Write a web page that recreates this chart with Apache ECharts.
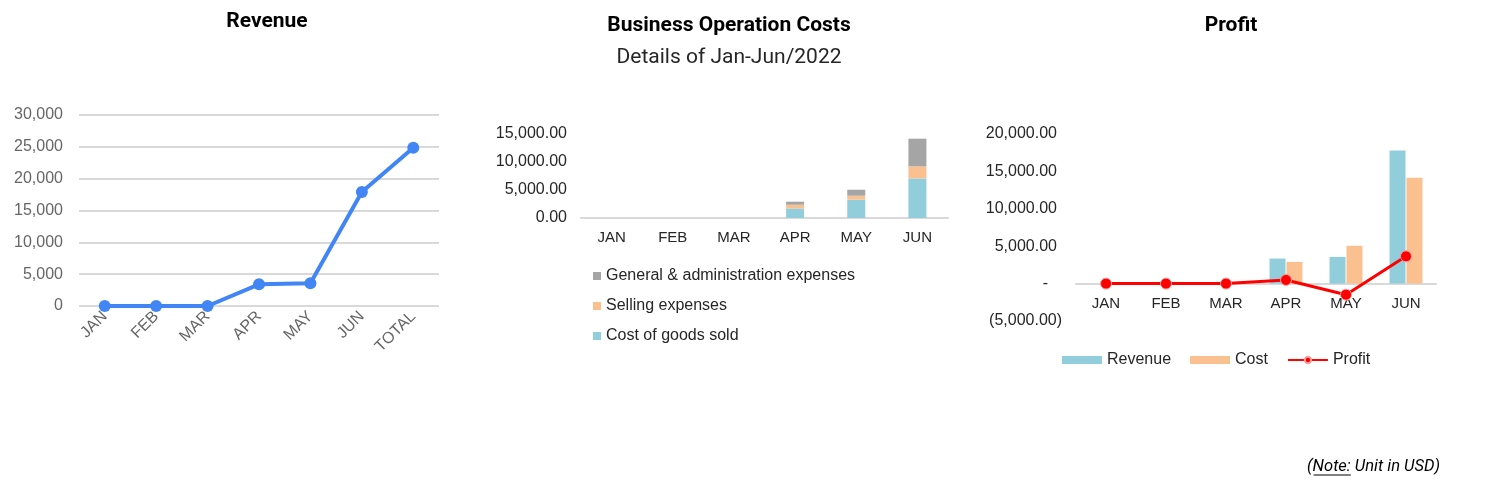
<!DOCTYPE html>
<html>
<head>
<meta charset="utf-8">
<script src="https://cdn.jsdelivr.net/npm/echarts@6/dist/echarts.min.js"></script>
<style>
html,body{margin:0;padding:0;background:#fff;}
#chart{width:1491px;height:488px;}
</style>
</head>
<body>
<div id="chart"></div>
<script>
// ---- data ----
const revenueCategories = ['JAN', 'FEB', 'MAR', 'APR', 'MAY', 'JUN', 'TOTAL'];
const revenueValues = [0, 0, 0, 3400, 3570, 17900, 24870];

const months = ['JAN', 'FEB', 'MAR', 'APR', 'MAY', 'JUN'];
const costOfGoodsSold = [0, 0, 0, 1700, 3270, 7070];
const sellingExpenses = [0, 0, 0, 670, 710, 2140];
const gnaExpenses = [0, 0, 0, 540, 1070, 4950];

const profitRevenue = [0, 0, 0, 3350, 3570, 17800];
const profitCost = [0, 0, 0, 2900, 5050, 14150];
const profitValues = [0, 0, 0, 490, -1480, 3650];

const titles = ['Revenue', 'Business Operation Costs', 'Profit'];
const subtitle = 'Details of Jan-Jun/2022';
const costLegend = ['General & administration expenses', 'Selling expenses', 'Cost of goods sold'];
const profitLegend = ['Revenue', 'Cost', 'Profit'];
const notePrefix = '(';
const noteLabel = 'Note:';
const noteRest = ' Unit in USD)';

// ---- chart ----
const chart = echarts.init(document.getElementById('chart'));
const AX = 'Liberation Sans, Arial, sans-serif';
const TF = 'Roboto, sans-serif';
const fmt2 = v => Math.abs(v).toLocaleString('en-US', {minimumFractionDigits: 2, maximumFractionDigits: 2});

// note text measurement (for underline under "Note:")
const noteFont = 'italic 16.5px Roboto, sans-serif';
const ctx = document.createElement('canvas').getContext('2d');
ctx.font = noteFont;
const noteFull = notePrefix + noteLabel + noteRest;
const noteRight = 1440;
const noteX0 = noteRight - ctx.measureText(noteFull).width;
const ulX1 = noteX0 + ctx.measureText(notePrefix).width + 1;
const ulX2 = noteX0 + ctx.measureText(notePrefix + noteLabel).width;

const option = {
  animation: false,
  title: [
    {text: titles[0], left: 262, top: 6, textAlign: 'center',
     textStyle: {fontFamily: TF, fontWeight: 'bold', fontSize: 21, color: '#000'}},
    {text: titles[1], left: 724, top: 10, textAlign: 'center',
     textStyle: {fontFamily: TF, fontWeight: 'bold', fontSize: 21, color: '#000'}},
    {text: subtitle, left: 724, top: 42, textAlign: 'center',
     textStyle: {fontFamily: TF, fontWeight: 'normal', fontSize: 21, color: '#262626'}},
    {text: titles[2], left: 1226, top: 10, textAlign: 'center',
     textStyle: {fontFamily: TF, fontWeight: 'bold', fontSize: 21, color: '#000'}}
  ],
  legend: [
    {
      data: costLegend, orient: 'vertical', left: 588, top: 263,
      icon: 'rect', itemWidth: 8, itemHeight: 8, itemGap: 14, itemTextGap: 3,
      textStyle: {fontFamily: AX, fontSize: 16, color: '#262626'}
    },
    {
      data: [{name: profitLegend[0], icon: 'rect'}, {name: profitLegend[1], icon: 'rect'}, {name: profitLegend[2]}],
      left: 1057, top: 347, itemWidth: 40, itemHeight: 8, itemGap: 19, itemTextGap: 5,
      textStyle: {fontFamily: AX, fontSize: 16, color: '#262626'}
    }
  ],
  grid: [
    {left: 79, right: 1052, top: 115, bottom: 182, containLabel: false},
    {left: 581, right: 543, top: 134, bottom: 270, containLabel: false},
    {left: 1076, right: 55, top: 134, bottom: 167, containLabel: false}
  ],
  xAxis: [
    {gridIndex: 0, type: 'category', data: revenueCategories, boundaryGap: true,
     axisLine: {show: false}, axisTick: {show: false},
     axisLabel: {rotate: 45, fontFamily: AX, fontSize: 16, color: '#666', margin: 8}},
    {gridIndex: 1, type: 'category', data: months,
     axisLine: {lineStyle: {color: '#d9d9d9', width: 2}}, axisTick: {show: false},
     axisLabel: {fontFamily: AX, fontSize: 15, color: '#262626', margin: 12}},
    {gridIndex: 2, type: 'category', data: months,
     axisLine: {onZero: true, lineStyle: {color: '#d9d9d9', width: 2}}, axisTick: {show: false},
     axisLabel: {fontFamily: AX, fontSize: 15, color: '#262626', margin: -25}}
  ],
  yAxis: [
    {gridIndex: 0, type: 'value', min: 0, max: 30000, interval: 5000,
     axisLine: {show: false}, axisTick: {show: false},
     splitLine: {lineStyle: {color: '#d9d9d9', width: 2}},
     axisLabel: {fontFamily: AX, fontSize: 16, color: '#666', margin: 16,
       formatter: v => v.toLocaleString('en-US')}},
    {gridIndex: 1, type: 'value', min: 0, max: 15000, interval: 5000,
     axisLine: {show: false}, axisTick: {show: false}, splitLine: {show: false},
     axisLabel: {fontFamily: AX, fontSize: 16, color: '#262626', margin: 14,
       formatter: v => fmt2(v)}},
    {gridIndex: 2, type: 'value', min: -5000, max: 20000, interval: 5000,
     axisLine: {show: false}, axisTick: {show: false}, splitLine: {show: false},
     axisLabel: {fontFamily: AX, fontSize: 16, color: '#262626', margin: 14,
       formatter: v => v === 0 ? '{z|-}' : (v < 0 ? '{n|(' + fmt2(v) + ')}' : '{p|' + fmt2(v) + '}'),
       rich: {
         z: {fontFamily: AX, fontSize: 16, color: '#262626', padding: [0, 14, 0, 0]},
         n: {fontFamily: AX, fontSize: 16, color: '#262626'},
         p: {fontFamily: AX, fontSize: 16, color: '#262626', padding: [0, 5, 0, 0]}
       }}}
  ],
  series: [
    {name: 'RevenueLine', type: 'line', xAxisIndex: 0, yAxisIndex: 0, data: revenueValues,
     symbol: 'circle', symbolSize: 12,
     lineStyle: {color: '#4285f4', width: 4}, itemStyle: {color: '#4285f4'}},

    {name: costLegend[2], type: 'bar', stack: 'cost', xAxisIndex: 1, yAxisIndex: 1,
     data: costOfGoodsSold, barWidth: 18, itemStyle: {color: '#92cddc'}},
    {name: costLegend[1], type: 'bar', stack: 'cost', xAxisIndex: 1, yAxisIndex: 1,
     data: sellingExpenses, barWidth: 18, itemStyle: {color: '#fac090'}},
    {name: costLegend[0], type: 'bar', stack: 'cost', xAxisIndex: 1, yAxisIndex: 1,
     data: gnaExpenses, barWidth: 18, itemStyle: {color: '#a5a5a5'}},

    {name: profitLegend[0], type: 'bar', xAxisIndex: 2, yAxisIndex: 2, data: profitRevenue,
     barWidth: 16, barGap: '6%', itemStyle: {color: '#92cddc'}},
    {name: profitLegend[1], type: 'bar', xAxisIndex: 2, yAxisIndex: 2, data: profitCost,
     barWidth: 16, barGap: '6%', itemStyle: {color: '#fac090'}},
    {name: profitLegend[2], type: 'line', xAxisIndex: 2, yAxisIndex: 2, data: profitValues,
     symbol: 'circle', symbolSize: 11, z: 5,
     lineStyle: {color: '#ff0000', width: 3},
     itemStyle: {color: '#ff0000', borderColor: '#f2a0a0', borderWidth: 1}}
  ],
  graphic: [
    {type: 'text', x: noteRight, y: 467,
     style: {text: noteFull, font: noteFont, fill: '#000', textAlign: 'right', textVerticalAlign: 'middle'}},
    {type: 'line', shape: {x1: ulX1, y1: 475, x2: ulX2, y2: 475},
     style: {stroke: '#000', lineWidth: 1}}
  ]
};
chart.setOption(option);
</script>
</body>
</html>
